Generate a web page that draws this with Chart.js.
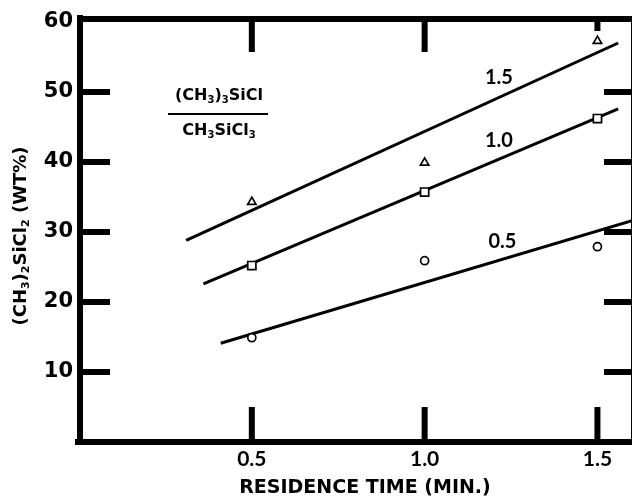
<!DOCTYPE html>
<html>
<head>
<meta charset="utf-8">
<script src="https://cdn.jsdelivr.net/npm/chart.js@4/dist/chart.umd.min.js"></script>
<style>
  body { margin: 0; background: #fff; }
  canvas { display: block; }
</style>
</head>
<body>
<canvas id="myChart" width="632" height="501"></canvas>
<script>
// residence time (min.)
const tiempos = [0.5, 1.0, 1.5];

// measured points, one array per (CH3)3SiCl / CH3SiCl3 ratio
const ratio15 = [34.3, 39.9, 57.3];
const ratio10 = [25.2, 35.7, 46.2];
const ratio05 = [14.9, 25.9, 27.9];

// hand drawn fit lines (start and end)
const fitX15 = [0.31, 1.56];
const fitY15 = [28.8, 57.0];
const fitX10 = [0.36, 1.56];
const fitY10 = [22.6, 47.6];
const fitX05 = [0.41, 1.60];
const fitY05 = [14.1, 31.6];

const xTicks = [0.5, 1.0, 1.5];
const xTickLabels = ['0.5', '1.0', '1.5'];
const yTicks = [10, 20, 30, 40, 50, 60];

const etiquetas = [
    { text: '1.5', x: 1.215, y: 52.1 },
    { text: '1.0', x: 1.215, y: 43.1 },
    { text: '0.5', x: 1.225, y: 28.6 }
];

function puntos(xs, ys) {
    return xs.map((x, i) => ({ x: x, y: ys[i] }));
}

function fitLine(xs, ys) {
    return {
        data: puntos(xs, ys),
        showLine: true,
        borderColor: '#000',
        borderWidth: 3,
        pointRadius: 0,
        fill: false,
        order: 2
    };
}

function marcas(ys, style, radius) {
    return {
        data: puntos(tiempos, ys),
        showLine: false,
        pointStyle: style,
        pointRadius: radius,
        pointBorderColor: '#000',
        pointBackgroundColor: '#fff',
        pointBorderWidth: 1.7,
        order: 1
    };
}

// text with subscripts: parts = [[text, isSub], ...]
function setFont(ctx, size, sub) {
    ctx.font = 'bold ' + (sub ? Math.round(size * 0.62) : size) + 'px "DejaVu Sans"';
}

function drawRich(ctx, parts, x, y, size) {
    let w = 0;
    parts.forEach(p => {
        setFont(ctx, size, p[1]);
        w += ctx.measureText(p[0]).width;
    });
    let cx = x - w / 2;
    ctx.textAlign = 'left';
    ctx.textBaseline = 'middle';
    parts.forEach(p => {
        setFont(ctx, size, p[1]);
        ctx.fillText(p[0], cx, p[1] ? y + size * 0.3 : y);
        cx += ctx.measureText(p[0]).width;
    });
}

const marco = {
    id: 'marco',
    afterDraw(chart) {
        const ctx = chart.ctx;
        const xs = chart.scales.x;
        const ys = chart.scales.y;
        const a = chart.chartArea;
        ctx.save();
        ctx.strokeStyle = '#000';
        ctx.fillStyle = '#000';
        ctx.lineCap = 'butt';

        // thick frame
        ctx.lineWidth = 6;
        ctx.beginPath();
        ctx.moveTo(a.left + 1, a.top - 7);
        ctx.lineTo(a.left + 1, a.bottom + 3);
        ctx.moveTo(a.left - 2, a.top - 3);
        ctx.lineTo(a.right + 5, a.top - 3);
        ctx.moveTo(a.left - 4, a.bottom);
        ctx.lineTo(a.right + 5, a.bottom);
        ctx.moveTo(a.right + 2, a.top - 3);
        ctx.lineTo(a.right + 2, a.bottom);
        ctx.stroke();

        // inner ticks
        ctx.beginPath();
        yTicks.slice(0, 5).forEach(v => {
            const py = ys.getPixelForValue(v);
            ctx.moveTo(a.left, py);
            ctx.lineTo(110, py);
            ctx.moveTo(604, py);
            ctx.lineTo(a.right, py);
        });
        xTicks.forEach((v, i) => {
            const px = xs.getPixelForValue(v);
            ctx.moveTo(px, a.bottom);
            ctx.lineTo(px, a.bottom - 35);
            ctx.moveTo(px, a.top - 3);
            ctx.lineTo(px, i < 2 ? a.top + 30 : a.top + 9);
        });
        ctx.stroke();

        // labels on the lines
        ctx.font = 'bold 20px Lato';
        ctx.textAlign = 'center';
        ctx.textBaseline = 'middle';
        etiquetas.forEach(e => {
            ctx.fillText(e.text, xs.getPixelForValue(e.x), ys.getPixelForValue(e.y));
        });

        // ratio label
        drawRich(ctx, [['(CH', false], ['3', true], [')', false], ['3', true], ['SiCl', false]], 219, 96, 16);
        ctx.lineWidth = 2;
        ctx.beginPath();
        ctx.moveTo(168, 114);
        ctx.lineTo(268, 114);
        ctx.stroke();
        drawRich(ctx, [['CH', false], ['3', true], ['SiCl', false], ['3', true]], 219, 131, 16);

        // axis titles
        ctx.font = 'bold 19px "DejaVu Sans"';
        ctx.textAlign = 'center';
        ctx.textBaseline = 'middle';
        ctx.fillText('RESIDENCE TIME (MIN.)', 365, 488);

        ctx.translate(21, 236);
        ctx.rotate(-Math.PI / 2);
        drawRich(ctx, [['(CH', false], ['3', true], [')', false], ['2', true], ['SiCl', false], ['2', true], [' (WT%)', false]], 0, 0, 18);
        ctx.restore();
    }
};

const ctx = document.getElementById('myChart');

new Chart(ctx, {
    type: 'scatter',
    data: {
        datasets: [
            fitLine(fitX15, fitY15),
            fitLine(fitX10, fitY10),
            fitLine(fitX05, fitY05),
            marcas(ratio15, 'triangle', 4.8),
            marcas(ratio10, 'rect', 5.8),
            marcas(ratio05, 'circle', 4)
        ]
    },
    options: {
        responsive: false,
        animation: false,
        devicePixelRatio: 1,
        layout: { autoPadding: false, padding: { top: 22, right: 0, left: 0, bottom: 0 } },
        plugins: {
            legend: { display: false },
            tooltip: { enabled: false }
        },
        scales: {
            x: {
                type: 'linear',
                min: 0,
                max: 1.6,
                grid: { display: false, drawTicks: false },
                border: { display: false },
                afterBuildTicks: s => { s.ticks = xTicks.map(v => ({ value: v })); },
                afterFit: s => { s.height = 59; s.paddingLeft = 0; s.paddingRight = 0; },
                ticks: {
                    color: '#000',
                    padding: 5,
                    maxRotation: 0,
                    font: { family: 'Lato', size: 21, weight: 'bold' },
                    callback: v => xTickLabels[xTicks.indexOf(v)]
                }
            },
            y: {
                min: 0,
                max: 60,
                grid: { display: false, drawTicks: false },
                border: { display: false },
                afterBuildTicks: s => { s.ticks = yTicks.map(v => ({ value: v })); },
                afterFit: s => { s.width = 79; s.paddingTop = 0; s.paddingBottom = 0; },
                ticks: {
                    color: '#000',
                    padding: 6,
                    font: { family: 'DejaVu Sans', size: 21, weight: 'bold' }
                }
            }
        }
    },
    plugins: [marco]
});
</script>
</body>
</html>
